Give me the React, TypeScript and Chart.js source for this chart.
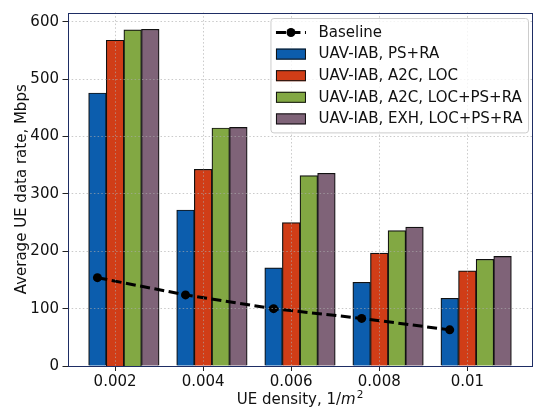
import React, { useEffect, useRef } from 'react';
import { Chart, registerables } from 'chart.js';

Chart.register(...registerables);

// ---- data ----
const categories = ['0.002', '0.004', '0.006', '0.008', '0.01'];
const baseline = [154, 124, 100, 83, 63];
const psRa = [476, 272, 171, 146, 118];
const a2cLoc = [568, 343, 250, 197, 166];
const a2cLocPsRa = [586, 415, 332, 236, 186];
const exhLocPsRa = [587, 416, 336, 242, 191];
const yTicks = [0, 100, 200, 300, 400, 500, 600];
const seriesLabels = [
  'Baseline',
  'UAV-IAB, PS+RA',
  'UAV-IAB, A2C, LOC',
  'UAV-IAB, A2C, LOC+PS+RA',
  'UAV-IAB, EXH, LOC+PS+RA',
];

const barColors = ['#0c5dad', '#d03d17', '#82a843', '#7f6378'];
const BAR_W = 0.2;
const FONT = '"DejaVu Sans", sans-serif';
const FS = 15;

export default function App() {
  const ref = useRef<HTMLCanvasElement | null>(null);

  useEffect(() => {
    if (!ref.current) return;
    const barSeries = [psRa, a2cLoc, a2cLocPsRa, exhLocPsRa];
    const n = categories.length;
    const lo = -BAR_W - BAR_W / 2;
    const hi = n - 1 + 2 * BAR_W + BAR_W / 2;
    const mx = 0.05 * (hi - lo);
    const maxVal = Math.max(...barSeries.flat(), ...baseline);
    const yMax = maxVal * 1.05;

    const frameLegendPlugin = {
      id: 'frameLegend',
      afterDraw(chart: any) {
        const ctx = chart.ctx as CanvasRenderingContext2D;
        const a = chart.chartArea;
        ctx.save();
        // frame
        ctx.strokeStyle = '#1e2d64';
        ctx.lineWidth = 1;
        ctx.strokeRect(Math.round(a.left) + 0.5, Math.round(a.top) + 0.5, Math.round(a.right - a.left) - 1, Math.round(a.bottom - a.top) - 1);

        // y title
        ctx.fillStyle = '#111';
        ctx.font = `${FS}px ${FONT}`;
        ctx.textAlign = 'center';
        ctx.textBaseline = 'middle';
        ctx.save();
        ctx.translate(22, (a.top + a.bottom) / 2);
        ctx.rotate(-Math.PI / 2);
        ctx.fillText('Average UE data rate, Mbps', 0, 0);
        ctx.restore();

        // x title with mathtext-like m^2
        const p1 = 'UE density, 1/';
        const p2 = 'm';
        const p3 = '2';
        ctx.font = `${FS}px ${FONT}`;
        const w1 = ctx.measureText(p1).width;
        ctx.font = `italic ${FS}px ${FONT}`;
        const w2 = ctx.measureText(p2).width;
        ctx.font = `10.5px ${FONT}`;
        const w3 = ctx.measureText(p3).width;
        const total = w1 + w2 + w3 + 1;
        let x = (a.left + a.right) / 2 - total / 2;
        const yb = 404;
        ctx.textAlign = 'left';
        ctx.textBaseline = 'alphabetic';
        ctx.font = `${FS}px ${FONT}`;
        ctx.fillText(p1, x, yb);
        x += w1;
        ctx.font = `italic ${FS}px ${FONT}`;
        ctx.fillText(p2, x, yb);
        x += w2 + 1;
        ctx.font = `10.5px ${FONT}`;
        ctx.fillText(p3, x, yb - 6.5);

        // legend
        ctx.font = `${FS}px ${FONT}`;
        const labels: string[] = chart.data.datasets.map((d: any) => d.label);
        const maxW = Math.max(...labels.map((l) => ctx.measureText(l).width));
        const rowH = 21.6;
        const handleW = 30;
        const padL = 5;
        const gap = 12.5;
        const padR = 6;
        const bw = padL + handleW + gap + maxW + padR;
        const bh = 28 + rowH * (labels.length - 1);
        const right = a.right - 4;
        const top = a.top + 6;
        const left = right - bw;
        const r = 3;
        ctx.beginPath();
        ctx.moveTo(left + r, top);
        ctx.lineTo(left + bw - r, top);
        ctx.arcTo(left + bw, top, left + bw, top + r, r);
        ctx.lineTo(left + bw, top + bh - r);
        ctx.arcTo(left + bw, top + bh, left + bw - r, top + bh, r);
        ctx.lineTo(left + r, top + bh);
        ctx.arcTo(left, top + bh, left, top + bh - r, r);
        ctx.lineTo(left, top + r);
        ctx.arcTo(left, top, left + r, top, r);
        ctx.closePath();
        ctx.fillStyle = 'rgba(255,255,255,0.8)';
        ctx.fill();
        ctx.strokeStyle = '#cccccc';
        ctx.lineWidth = 1;
        ctx.stroke();

        chart.data.datasets.forEach((d: any, k: number) => {
          const cy = top + 14 + k * rowH;
          const hx = left + padL;
          if (d.type === 'line') {
            ctx.strokeStyle = '#000';
            ctx.lineWidth = d.borderWidth;
            ctx.setLineDash(d.borderDash);
            ctx.beginPath();
            ctx.moveTo(hx, cy);
            ctx.lineTo(hx + handleW, cy);
            ctx.stroke();
            ctx.setLineDash([]);
            ctx.fillStyle = '#000';
            ctx.beginPath();
            ctx.arc(hx + handleW / 2, cy, d.pointRadius, 0, Math.PI * 2);
            ctx.fill();
          } else {
            ctx.fillStyle = d.backgroundColor;
            ctx.fillRect(hx, cy - 5.5, handleW, 11);
            ctx.strokeStyle = '#111';
            ctx.lineWidth = 1;
            ctx.strokeRect(hx + 0.5, cy - 5.5 + 0.5, handleW - 1, 10);
          }
          ctx.fillStyle = '#111';
          ctx.font = `${FS}px ${FONT}`;
          ctx.textAlign = 'left';
          ctx.textBaseline = 'middle';
          ctx.fillText(d.label, hx + handleW + gap, cy + 0.5);
        });
        ctx.restore();
      },
    };

    const datasets: any[] = [
      {
        type: 'line',
        label: seriesLabels[0],
        data: baseline.map((v, i) => ({ x: i - BAR_W, y: v })),
        borderColor: '#000',
        borderWidth: 3,
        borderDash: [10, 4.5],
        pointRadius: 4.5,
        pointBackgroundColor: '#000',
        pointBorderColor: '#000',
        pointBorderWidth: 0,
        fill: false,
        tension: 0,
        order: 0,
      },
      ...barSeries.map((s, k) => ({
        type: 'bar',
        label: seriesLabels[k + 1],
        data: s.map((v, i) => ({ x: i + BAR_W * (k - 1), y: v })),
        backgroundColor: barColors[k],
        borderColor: '#111',
        borderWidth: 1.2,
        grouped: false,
        barPercentage: 1,
        categoryPercentage: 1,
        order: 1,
      })),
    ];

    const gridCommon = {
      color: 'rgba(170,170,170,0.7)',
      lineWidth: 0.9,
      z: 1,
      offset: false,
      tickColor: '#222',
      tickLength: 5,
      tickWidth: 1,
      drawTicks: true,
    };

    const chart = new Chart(ref.current, {
      type: 'bar',
      data: { datasets },
      options: {
        animation: false,
        responsive: false,
        devicePixelRatio: 1,
        layout: { padding: { top: 7, right: 3.5, left: 0, bottom: 0 } },
        plugins: { legend: { display: false }, tooltip: { enabled: false } },
        scales: {
          x: {
            type: 'linear',
            offset: false,
            min: lo - mx,
            max: hi + mx,
            afterBuildTicks: (s: any) => {
              s.ticks = categories.map((_, i) => ({ value: i }));
            },
            afterFit: (s: any) => {
              s.height = 46;
            },
            ticks: {
              autoSkip: false,
              maxRotation: 0,
              padding: 2,
              color: '#111',
              font: { family: FONT, size: FS },
              callback: (v: any) => categories[Math.round(Number(v))],
            },
            grid: gridCommon,
            border: { display: false, dash: [1.5, 2.2] },
          },
          y: {
            type: 'linear',
            min: 0,
            max: yMax,
            afterBuildTicks: (s: any) => {
              s.ticks = yTicks.map((v) => ({ value: v }));
            },
            afterFit: (s: any) => {
              s.width = 67.5;
            },
            ticks: {
              padding: 3.5,
              color: '#111',
              font: { family: FONT, size: FS },
              callback: (v: any) => String(v),
            },
            grid: gridCommon,
            border: { display: false, dash: [1.5, 2.2] },
          },
        },
      },
      plugins: [frameLegendPlugin],
    } as any);
    return () => chart.destroy();
  }, []);

  return (
    <div style={{ position: 'fixed', left: 0, top: 0, width: 537, height: 412, background: '#fff' }}>
      <canvas ref={ref} width={537} height={412} style={{ width: 537, height: 412, display: 'block' }} />
    </div>
  );
}
